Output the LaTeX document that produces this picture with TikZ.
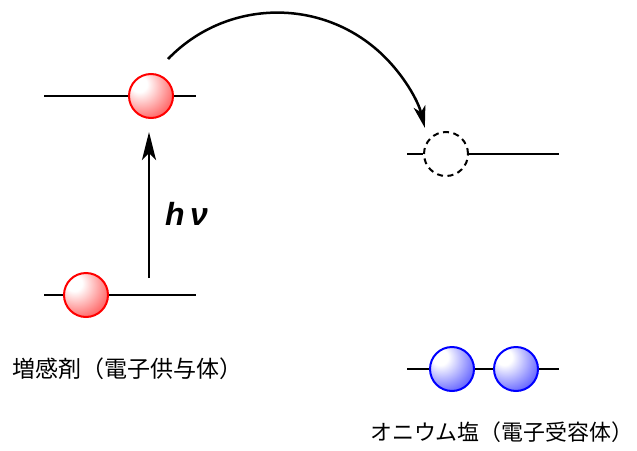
\documentclass[tikz,border=0pt]{standalone}
\usepackage{fontspec}
\setmainfont{Liberation Sans}
\newfontfamily\jpfont{Noto Sans CJK JP}
\usetikzlibrary{arrows.meta}
\pgfdeclareradialshading{redball}{\pgfpoint{-15bp}{15bp}}{color(0bp)=(white);color(9bp)=(white);color(34bp)=(red!55);color(58bp)=(red);color(90bp)=(red)}
\pgfdeclareradialshading{blueball}{\pgfpoint{-15bp}{15bp}}{color(0bp)=(white);color(9bp)=(white);color(34bp)=(blue!55);color(58bp)=(blue);color(90bp)=(blue)}
\begin{document}
\begin{tikzpicture}[x=1pt,y=-1pt,
  level/.style={line width=2.5pt},
  redb/.style={circle, minimum size=44pt, inner sep=0pt, draw=red, line width=2pt, shading=redball},
  blueb/.style={circle, minimum size=44pt, inner sep=0pt, draw=blue, line width=2pt, shading=blueball},
  hole/.style={circle, minimum size=44pt, inner sep=0pt, draw=black, line width=2pt, dash pattern=on 6pt off 4.5pt, fill=white},
  jplabel/.style={anchor=west, inner sep=0pt, font=\jpfont\fontsize{23}{28}\selectfont}
]
\useasboundingbox (0,0) rectangle (637,450);
% level lines
\coordinate (L1a) at (44,96);  \coordinate (L1b) at (196,96);
\coordinate (L2a) at (44,295); \coordinate (L2b) at (196,295);
\coordinate (R1a) at (407,154); \coordinate (R1b) at (559,154);
\coordinate (R2a) at (407,369); \coordinate (R2b) at (559,369);
\draw[level] (L1a) -- (L1b);
\draw[level] (L2a) -- (L2b);
\draw[level] (R2a) -- (R2b);
% electrons
\node[redb] (donorTop) at (151,96) {};
\node[redb] (donorBot) at (86,295) {};
\node[hole] (accHole) at (446,154) {};
\node[blueb] (acc1) at (452,369) {};
\node[blueb] (acc2) at (516,369) {};
\draw[level] (R1a) -- (accHole.west);
\draw[level] (accHole.east) -- (R1b);
% excitation arrow
\coordinate (exFrom) at (149,278);
\coordinate (exTo) at (149,132);
\draw[line width=2.8pt, -{Stealth[length=28pt,width=14pt,inset=7pt]}] (exFrom) -- (exTo);
\node[inner sep=0pt, anchor=base west, font=\fontsize{32}{38}\selectfont\bfseries\itshape] (hv) at (165,225) {h\,ν};
% transfer arc
\coordinate (arcStart) at (168,59);
\draw[line width=2.5pt, -{Stealth[length=22pt,width=12pt,inset=6pt]}] (arcStart) arc[start angle=-136, end angle=-14, radius=152];
% labels
\node[jplabel] (donorLabel) at (12,369) {増感剤（電子供与体）};
\node[jplabel, font=\jpfont\fontsize{21.9}{27}\selectfont] (accLabel) at (370,432) {オニウム塩（電子受容体）};
\end{tikzpicture}
\end{document}
